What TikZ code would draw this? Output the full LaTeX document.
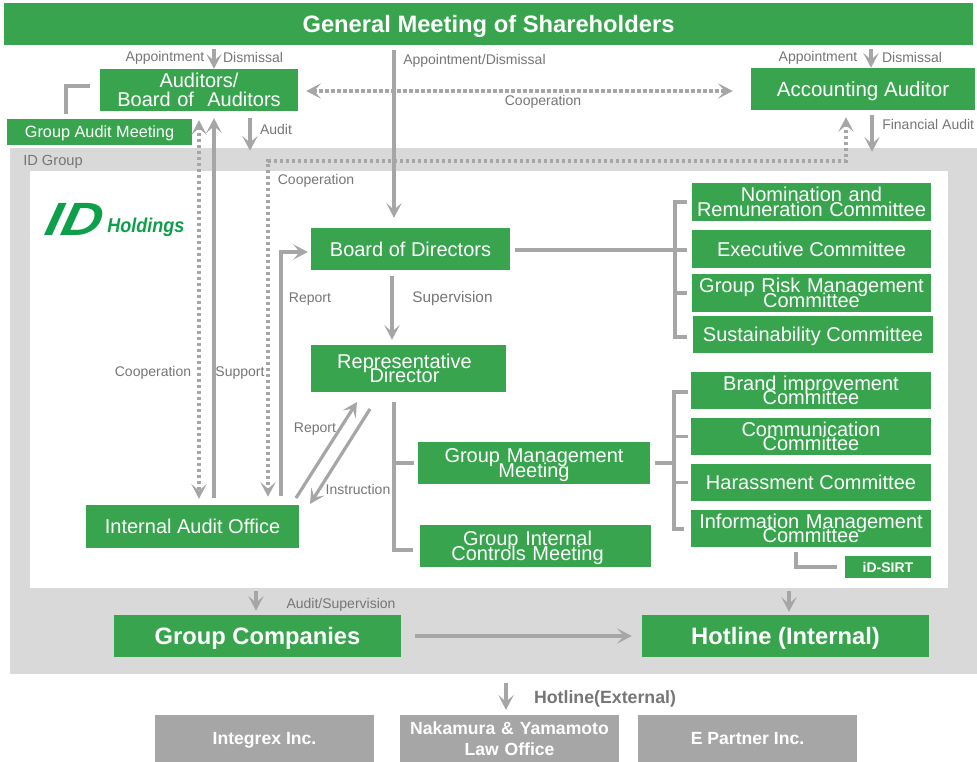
\documentclass[tikz,border=0pt]{standalone}
\usepackage{fontspec}
\setmainfont{Liberation Sans}
\usetikzlibrary{arrows.meta,calc}
\definecolor{idgreen}{RGB}{56,165,78}
\definecolor{logogreen}{RGB}{14,159,74}
\definecolor{linegrey}{RGB}{166,166,166}
\definecolor{panelgrey}{RGB}{217,217,217}
\definecolor{labelgrey}{RGB}{118,118,118}
\newcommand{\fsz}[2]{\fontsize{#1}{#2}\selectfont}
\newcommand{\capstrut}{\rule[-0.184em]{0pt}{1.084em}}
\tikzset{
  x=0.75pt,y=-0.75pt,
  tip/.tip={Stealth[length=11pt,width=11.5pt,inset=5pt]},
  box/.style={fill=idgreen,text=white,inner sep=0pt,align=center,font=\fsz{15}{10.9},
    execute at begin node={\lineskiplimit=-100pt\capstrut},execute at end node={\capstrut}},
  bigbox/.style={box,font=\fsz{17.8}{18}\bfseries},
  greybox/.style={box,fill=linegrey,font=\fsz{13.2}{15.7}\bfseries},
  lbl/.style={text=labelgrey,inner sep=0pt,font=\fsz{10.5}{12},execute at begin node={\capstrut}},
  sol/.style={draw=linegrey,line width=2.4pt},
  arr/.style={sol,-{tip}},
  dot/.style={draw=linegrey,line width=2.3pt,dash pattern=on 2.3pt off 2.2pt},
  wide/.style={box,text width=178pt},
}
\newcommand{\bx}[7][box]{\node[#1,minimum width=#5*0.75pt-#3*0.75pt,minimum height=#6*0.75pt-#4*0.75pt] (#2) at ({(#3+#5)/2},{(#4+#6)/2}) {#7};}
\begin{document}
\begin{tikzpicture}
\useasboundingbox (0,0) rectangle (977,762);
\fill[white] (0,0) rectangle (977,762);
% panels
\node[fill=panelgrey,inner sep=0pt,minimum width=967*0.75pt,minimum height=526*0.75pt] (panel) at (493.5,411) {};
\node[fill=white,inner sep=0pt,minimum width=918*0.75pt,minimum height=416*0.75pt] (inner) at (489,379.5) {};
\node[lbl,anchor=west,font=\fsz{11}{12}] (idg) at (23,160.5) {ID Group};
% boxes
\bx[bigbox]{gm}{4}{3}{973}{45}{General Meeting of Shareholders}
\bx[box,text width=146pt,font=\fsz{15}{14}]{aud}{100}{69}{298}{111}{Auditors/\\Board of\ \ Auditors}
\bx[box,font=\fsz{12.2}{12}]{gam}{7}{119}{192}{145}{Group Audit Meeting}
\bx[box,font=\fsz{15.4}{12}]{acc}{751}{68}{975}{110}{Accounting Auditor}
\bx{bod}{311}{228}{510}{270}{Board of Directors}
\bx[box,text width=146pt]{rep}{311}{345}{506}{392}{\hspace*{-6pt}Representative\\\hspace*{-6pt}Director}
\bx{iao}{86}{505}{299}{548}{Internal Audit Office}
\bx[box,text width=172pt]{gmm}{418}{442}{650}{484}{Group Management\\Meeting}
\bx[box,text width=173pt]{gic}{420}{525}{651}{567}{\hspace*{-12pt}Group Internal\\\hspace*{-12pt}Controls Meeting}
\bx[wide]{nom}{692}{183}{931}{221}{Nomination and\\Remuneration Committee}
\bx{exe}{692}{230}{931}{268}{Executive Committee}
\bx[wide]{risk}{692}{274}{931}{312}{Group Risk Management\\Committee}
\bx{sus}{693}{316}{933}{353}{Sustainability Committee}
\bx[wide]{bra}{691}{372}{931}{409}{Brand improvement\\Committee}
\bx[wide]{com}{691}{418}{931}{455}{Communication\\Committee}
\bx{har}{691}{464}{931}{501}{Harassment Committee}
\bx[wide]{inf}{691}{510}{931}{547}{Information Management\\Committee}
\bx[box,font=\fsz{10.5}{12}\bfseries]{sirt}{845}{556}{931}{578}{iD-SIRT}
\bx[bigbox]{gc}{114}{615}{401}{657}{Group Companies}
\bx[bigbox]{hot}{642}{615}{929}{657}{Hotline (Internal)}
\bx[greybox]{int}{155}{715}{374}{762}{Integrex Inc.}
\bx[greybox,text width=160pt]{nak}{400}{715}{619}{762}{Nakamura \& Yamamoto\\Law Office}
\bx[greybox]{epa}{638}{715}{857}{762}{E Partner Inc.}
% logo
\node[text=logogreen,inner sep=0pt,font=\fsz{35}{35}\bfseries\itshape,xslant=.22,transform shape] (logoid) at (75,219) {\scalebox{1.2}[1]{ID}};
\node[text=logogreen,inner sep=0pt,anchor=base west,font=\fsz{15}{16}\bfseries\itshape] (logoh) at (107,233) {\scalebox{.9}[1]{Holdings}};
% helper coordinates
\coordinate (dotturnL) at (268,161);
\coordinate (dotturnR) at (846,161);
\coordinate (repturn) at (281,252);
\coordinate (gamup) at (66,114);
\coordinate (gamturn) at (66,86);
\coordinate (gamend) at (90,86);
\coordinate (repfoot) at (296,498);
\coordinate (rephead) at (357,402);
\coordinate (insfoot) at (370,409);
\coordinate (inshead) at (310,504);
\coordinate (busA) at (675,202);
\coordinate (busB) at (675,337);
\coordinate (busC) at (674,392);
\coordinate (busD) at (674,529);
\coordinate (ctrlA) at (394,402);
\coordinate (ctrlB) at (394,550);
\coordinate (sirtA) at (796,552);
\coordinate (sirtB) at (796,567);
% connectors
\draw[arr,shorten <=3pt] (gm.south -| 214,0) -- (aud.north -| 214,0);
\draw[arr,shorten <=3.7pt,shorten >=7.5pt] (gm.south -| 394,0) -- (bod.north -| 394,0);
\draw[arr,shorten <=3pt] (gm.south -| 871,0) -- (acc.north -| 871,0);
\draw[dot,{tip}-{tip},shorten <=6pt,shorten >=13.5pt] (aud.east |- 0,91) -- (acc.west |- 0,91);
\draw[arr,shorten <=3.7pt,shorten >=-3pt] (acc.south -| 872,0) -- (panel.north -| 872,0);
\draw[arr,shorten <=5pt,shorten >=-2.2pt] (aud.south -| 250,0) -- (panel.north -| 250,0);
\draw[dot,{tip}-{tip},shorten <=5.2pt,shorten >=6pt] (acc.south -| 846,0) -- (dotturnR) -- (dotturnL) -- (iao.north -| 268,0);
\draw[dot,{tip}-{tip},shorten <=6.7pt,shorten >=4.5pt] (aud.south -| 199,0) -- (iao.north -| 199,0);
\draw[arr,shorten <=5.2pt,shorten >=5.2pt] (iao.north -| 214,0) -- (aud.south -| 214,0);
\draw[arr,shorten <=6.7pt,shorten >=2.2pt] (iao.north -| 281,0) -- (repturn) -- (bod.west |- 0,252);
\draw[arr,shorten <=4.5pt,shorten >=3.7pt] (bod.south -| 392,0) -- (rep.north -| 392,0);
\draw[arr] (repfoot) -- (rephead);
\draw[arr] (insfoot) -- (inshead);
\draw[sol] (gamup) -- (gamturn) -- (gamend);
% Board branch
\draw[sol,shorten <=3.7pt,shorten >=3.7pt] (bod.east |- 0,250) -- (exe.west |- 0,250);
\draw[sol,shorten <=3.7pt,shorten >=4.5pt] (nom.west |- busA) -- (busA) -- (busB) -- (sus.west |- busB);
\draw[sol,shorten >=3.7pt] (busA |- 0,293) -- (risk.west |- 0,293);
% Rep branch
\draw[sol,shorten >=5.2pt] (ctrlA) -- (ctrlB) -- (gic.west |- ctrlB);
\draw[sol,shorten >=3pt] (ctrlA |- gmm.west) -- (gmm.west);
% GMM branch
\draw[sol,shorten <=3.7pt] (gmm.east) -- (busC |- gmm.east);
\draw[sol,shorten <=2.2pt,shorten >=5.2pt] (bra.west |- busC) -- (busC) -- (busD) -- (inf.west |- busD);
\draw[sol,shorten >=2.2pt] (busC |- com.west) -- (com.west);
\draw[sol,shorten >=2.2pt] (busC |- har.west) -- (har.west);
\draw[sol,shorten >=6pt] (sirtA) -- (sirtB) -- (sirt.west |- sirtB);
% bottom
\draw[arr,shorten <=2.2pt,shorten >=3pt] (inner.south -| 256,0) -- (gc.north -| 256,0);
\draw[arr,shorten <=2.2pt,shorten >=2.2pt] (inner.south -| 789,0) -- (hot.north -| 789,0);
\draw[arr,shorten <=10.5pt,shorten >=7.5pt] (gc.east) -- (hot.west);
\draw[arr,shorten <=6.7pt,shorten >=3.7pt] (panel.south -| 506,0) -- (nak.north -| 506,0);
% labels
\node[lbl] (l1) at (165,57) {Appointment};
\node[lbl] (l2) at (253,57) {Dismissal};
\node[lbl,anchor=west] (l3) at (403,59.5) {Appointment/Dismissal};
\node[lbl] (l4) at (818,57) {Appointment};
\node[lbl] (l5) at (912,57) {Dismissal};
\node[lbl] (l6) at (543,100.5) {Cooperation};
\node[lbl] (l7) at (276,129) {Audit};
\node[lbl,anchor=west] (l8) at (882,124.5) {Financial Audit};
\node[lbl] (l9) at (316,180) {Cooperation};
\node[lbl] (l10) at (153,371.5) {Cooperation};
\node[lbl] (l11) at (240,371.5) {Support};
\node[lbl] (l12) at (310,297.5) {Report};
\node[lbl,font=\fsz{11.5}{12}] (l13) at (452.5,297.5) {Supervision};
\node[lbl] (l14) at (315,427.5) {Report};
\node[lbl] (l15) at (358,489) {Instruction};
\node[lbl] (l16) at (341,604) {Audit/Supervision};
\node[lbl,font=\fsz{13.3}{14}\bfseries] (l17) at (605,697) {Hotline(External)};
\end{tikzpicture}
\end{document}
